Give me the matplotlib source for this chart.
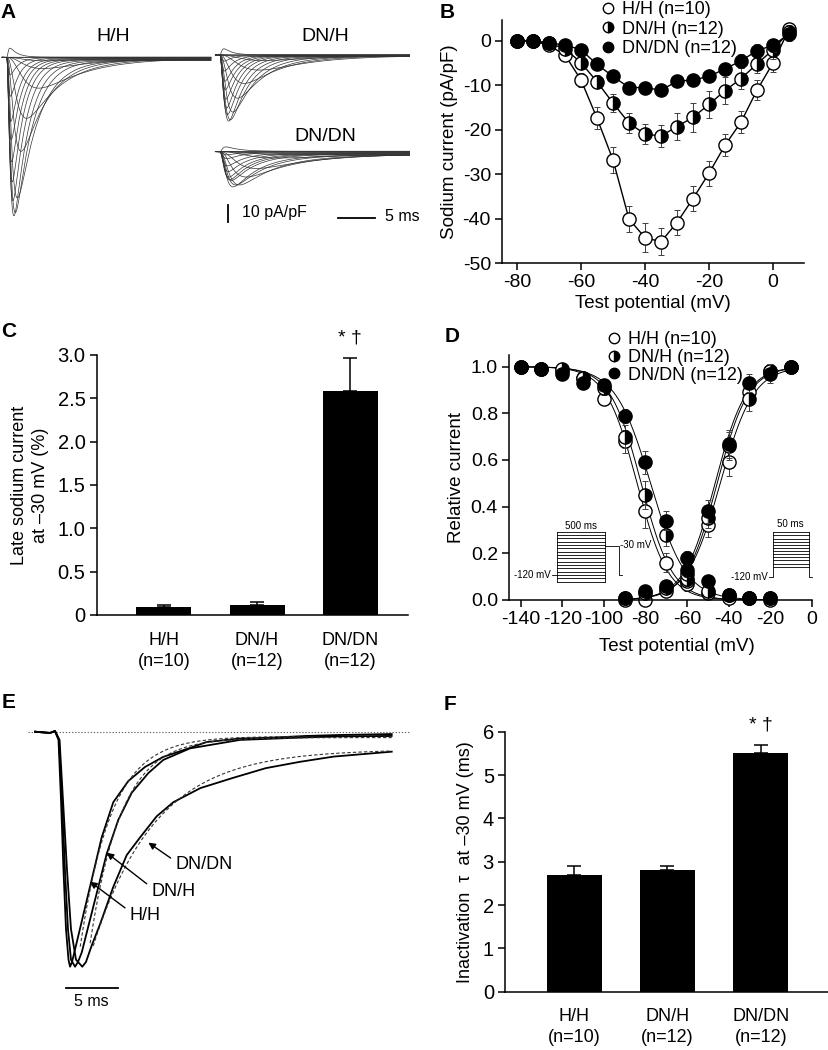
import numpy as np
import matplotlib
matplotlib.use('Agg')
import matplotlib.pyplot as plt
from matplotlib.lines import Line2D

plt.rcParams['font.family'] = ['Liberation Sans', 'DejaVu Sans']
plt.rcParams['axes.unicode_minus'] = False
plt.rcParams['font.size'] = 12
plt.rcParams['axes.linewidth'] = 1.1

genotypes = ['H/H', 'DN/H', 'DN/DN']
n_cells = [10, 12, 12]
legend_labels = ['H/H (n=10)', 'DN/H (n=12)', 'DN/DN (n=12)']

# B: peak current-voltage relation (pA/pF)
iv_v = [-80, -75, -70, -65, -60, -55, -50, -45, -40, -35, -30, -25, -20, -15, -10, -5, 0, 5]
iv_hh = [0, 0, -1, -3.2, -8.8, -17.4, -26.8, -40.1, -44.3, -45.2, -40.9, -35.5, -29.8, -23.5, -18.3, -11.1, -5.0, 2.6]
iv_dnh = [0, 0, -0.5, -1.8, -4.9, -9.2, -14.0, -18.5, -21.0, -21.4, -19.3, -17.2, -14.3, -11.2, -8.5, -5.2, -2.0, 2.0]
iv_dndn = [0, 0, -0.5, -0.9, -2.0, -5.3, -8.0, -10.5, -10.5, -11.1, -9.1, -8.8, -8.0, -6.3, -4.5, -2.2, -1.0, 1.5]
iv_err_hh = [0, 0, 0.5, 1, 1.5, 2.5, 3, 3, 3.2, 3, 2.8, 2.8, 2.8, 2.5, 2.5, 2.2, 2, 1.5]
iv_err_dnh = [0, 0, 0.5, 0.8, 1.5, 1.5, 2, 2.2, 2.3, 2.5, 3, 3.2, 3, 3, 2.3, 2, 2, 1.5]
iv_err_dndn = [0, 0, 0.3, 0.5, 0.8, 0.8, 1, 1, 1, 1, 1, 1, 1, 1.2, 1.5, 1.5, 1.5, 1.5]

# C: late sodium current at -30 mV (%)
late_mean = [0.09, 0.12, 2.58]
late_err = [0.03, 0.03, 0.38]

# D: steady-state inactivation and activation
inact_v = [-140, -130, -120, -110, -100, -90, -80, -70, -60, -50, -40, -30, -20]
inact_hh = [1.0, 0.99, 0.98, 0.95, 0.86, 0.68, 0.38, 0.16, 0.07, 0.03, 0.01, 0.01, 0.0]
inact_dnh = [1.0, 0.99, 0.99, 0.95, 0.91, 0.70, 0.45, 0.28, 0.09, 0.04, 0.02, 0.01, 0.01]
inact_dndn = [1.0, 0.99, 0.97, 0.93, 0.92, 0.79, 0.59, 0.34, 0.18, 0.08, 0.02, 0.01, 0.01]
inact_err_hh = [0, 0, 0, 0, 0.01, 0.05, 0.07, 0.04, 0.03, 0.01, 0, 0, 0]
inact_err_dnh = [0, 0, 0, 0, 0.03, 0.05, 0.06, 0.05, 0.03, 0.01, 0, 0, 0]
inact_err_dndn = [0, 0, 0, 0, 0.02, 0.03, 0.05, 0.04, 0.03, 0.02, 0.01, 0, 0]
act_v = [-90, -80, -70, -60, -50, -40, -30, -20, -10]
act_hh = [0.0, 0.0, 0.04, 0.08, 0.32, 0.59, 0.89, 0.98, 1.0]
act_dnh = [0.01, 0.03, 0.05, 0.11, 0.35, 0.66, 0.86, 0.98, 1.0]
act_dndn = [0.01, 0.04, 0.06, 0.13, 0.38, 0.67, 0.93, 0.97, 1.0]
act_err_hh = [0, 0.01, 0.02, 0.03, 0.05, 0.06, 0.03, 0.02, 0]
act_err_dnh = [0, 0.01, 0.02, 0.03, 0.04, 0.06, 0.05, 0.03, 0]
act_err_dndn = [0, 0.01, 0.02, 0.03, 0.05, 0.06, 0.04, 0.04, 0]
# Boltzmann fit parameters (V1/2, k)
inact_half = [-84, -82, -77.5]
inact_k = [7.5, 7.5, 8.5]
act_half = [-44, -45.5, -46.5]
act_k = [8, 7.5, 7.5]

# E: normalized current traces at -30 mV (ms, I/Ipeak)
e_t_hh = [0, 1.44, 1.92, 2.26, 2.5, 2.74, 2.98, 3.22, 3.37, 3.56, 3.94, 4.64, 5.45, 6.41, 7.53, 8.97, 10.58, 12.34, 14.9, 16.5, 19.7, 22.9, 26.1, 29.3, 34.3]
e_i_hh = [0, -0.006, 0.003, -0.035, -0.29, -0.59, -0.84, -0.97, -1.0, -0.98, -0.91, -0.78, -0.63, -0.45, -0.30, -0.21, -0.15, -0.107, -0.069, -0.044, -0.029, -0.025, -0.018, -0.014, -0.010]
e_t_dnh = [0, 1.44, 1.92, 2.31, 2.6, 2.88, 3.17, 3.46, 3.85, 4.13, 4.49, 5.29, 6.09, 6.89, 8.01, 9.3, 10.9, 12.34, 14.9, 19.7, 26.1, 29.3, 34.3]
e_i_dnh = [0, -0.005, 0.003, -0.035, -0.29, -0.59, -0.84, -0.97, -1.0, -0.98, -0.94, -0.80, -0.66, -0.52, -0.375, -0.26, -0.176, -0.12, -0.071, -0.035, -0.024, -0.02, -0.018]
e_t_dndn = [0, 1.44, 1.92, 2.36, 2.69, 3.08, 3.46, 3.94, 4.55, 4.9, 5.45, 6.25, 7.53, 8.82, 10.1, 11.7, 13.3, 15.9, 19.0, 22.2, 25.5, 28.7, 34.3]
e_i_dndn = [0, -0.005, 0.003, -0.035, -0.29, -0.59, -0.84, -0.97, -1.0, -0.98, -0.91, -0.82, -0.66, -0.525, -0.45, -0.36, -0.30, -0.24, -0.197, -0.155, -0.128, -0.106, -0.085]
# single exponential fits drawn dashed: anchor time, anchor value, offset, tau, first time
fit_t0 = [5.45, 6.89, 10.1]
fit_i0 = [0.64, 0.54, 0.47]
fit_c = [0.02, 0.025, 0.075]
fit_tau = [3.0, 3.0, 6.0]
fit_start = [4.35, 5.3, 5.6]
fit_end = 34.3

# F: inactivation time constant at -30 mV (ms)
tau_mean = [2.7, 2.8, 5.5]
tau_err = [0.2, 0.1, 0.2]

# A: trace family kinetics per test potential (ms)
a_tm = [2.5, 2.3, 2.1, 2.0, 1.8, 1.0, 0.7, 0.5, 0.4, 0.33, 0.28, 0.25, 0.22, 0.2, 0.18, 0.17, 0.16, 0.15]
a_th = [8, 8, 7.5, 7, 6, 4.5, 3.5, 2.8, 2.3, 2.0, 1.8, 1.6, 1.5, 1.4, 1.3, 1.2, 1.1, 1.0]
a_scale = [2.1, 1.85, 1.9]
a_rise_f = [1.0, 1.3, 1.8]
a_decay_f = [1.0, 1.1, 1.8]
a_late = [0.01, 0.01, 0.05]
a_step = [0.9, 29.7, 29.7]
a_end = [28.5, 55.4, 55.4]
a_base = [0.0, 1.4, -56.5]

iv_all = [iv_hh, iv_dnh, iv_dndn]
iv_err_all = [iv_err_hh, iv_err_dnh, iv_err_dndn]
inact_all = [inact_hh, inact_dnh, inact_dndn]
inact_err_all = [inact_err_hh, inact_err_dnh, inact_err_dndn]
act_all = [act_hh, act_dnh, act_dndn]
act_err_all = [act_err_hh, act_err_dnh, act_err_dndn]

mstyle = [dict(marker='o', mfc='white', mec='black'),
          dict(marker='o', mfc='black', mec='black', fillstyle='right', markerfacecoloralt='white'),
          dict(marker='o', mfc='black', mec='black')]

W, H = 829, 1050
fig = plt.figure(figsize=(W / 100, H / 100), dpi=100)


def axes_px(x0, y0, x1, y1):
    return fig.add_axes([x0 / W, 1 - y1 / H, (x1 - x0) / W, (y1 - y0) / H])


def clean(ax, size=14):
    ax.spines['top'].set_visible(False)
    ax.spines['right'].set_visible(False)
    ax.tick_params(direction='out', length=5, width=1.1, labelsize=size, pad=3)


# marker-only legend handles
leg_handles = [Line2D([], [], ls='none', ms=7.5, mew=1, **mstyle[g]) for g in range(3)]
leg_kw = dict(loc='upper left', frameon=False, fontsize=13, handlelength=1.0,
              handletextpad=0.3, borderpad=0, borderaxespad=0)

# ---------- A ----------
axA = axes_px(0, 25, 410, 260)
axA.axis('off')
axA.set_xlim(0, 410 / 7.4)
axA.set_ylim(-(260 - 57.3) / 1.67, (57.3 - 25) / 1.67)
for g in range(3):
    for amp, tm, th in zip(iv_all[g], a_tm, a_th):
        tt = np.linspace(0, a_end[g] - a_step[g], 1500)
        tmg = tm * a_rise_f[g]
        thg = th * a_decay_f[g]
        s = (1 - np.exp(-tt / tmg)) ** 3 * ((1 - a_late[g]) * np.exp(-tt / thg) + a_late[g])
        s = s / s.max()
        x = np.concatenate([[a_step[g] - 0.6], a_step[g] + tt])
        y = np.concatenate([[a_base[g]], a_base[g] + amp * a_scale[g] * s])
        axA.plot(x, y, color='0.2', lw=0.5)
axA.text(15.3, 12.3, 'H/H', ha='center', va='center', fontsize=14)
axA.text(43.9, 12.2, 'DN/H', ha='center', va='center', fontsize=14)
axA.text(43.9, -47.5, 'DN/DN', ha='center', va='center', fontsize=14)
axA.plot([30.8, 30.8], [-88.4, -98.4], color='black', lw=1.3)
axA.text(32.7, -93.2, '10 pA/pF', ha='left', va='center', fontsize=11.5)
axA.plot([45.7, 50.7], [-96.2, -96.2], color='black', lw=1.3)
axA.text(52.0, -95.6, '5 ms', ha='left', va='center', fontsize=11.5)

# ---------- B ----------
axB = axes_px(502, 20, 804, 263)
clean(axB)
for g in range(3):
    axB.errorbar(iv_v, iv_all[g], yerr=iv_err_all[g], fmt='none', ecolor='0.25',
                 elinewidth=0.7, capsize=2.5, capthick=0.7)
    axB.plot(iv_v, iv_all[g], '-', color='black', lw=1, ms=9.5, mew=1,
             clip_on=False, **mstyle[g])
axB.set_xlim(-84.7, 9.7)
axB.set_ylim(-50, 4.7)
axB.set_xticks([-80, -60, -40, -20, 0])
axB.set_yticks([0, -10, -20, -30, -40, -50])
axB.set_xlabel('Test potential (mV)', fontsize=13.5, labelpad=3)
axB.set_ylabel('Sodium current (pA/pF)', fontsize=13.5, labelpad=3)
fig.legend(leg_handles, legend_labels, bbox_to_anchor=(599 / W, 1 - 1 / H),
           labelspacing=0.15, **leg_kw)

# ---------- C ----------
axC = axes_px(96.7, 355, 408, 615)
clean(axC, 14.5)
xc = np.arange(3)
axC.bar(xc, late_mean, width=0.59, color='black',
        yerr=[np.zeros(3), late_err], error_kw=dict(ecolor='black', elinewidth=1.1, capsize=5, capthick=1.1))
axC.set_xlim(-0.72, 2.62)
axC.set_ylim(0, 3.0)
axC.set_yticks([0, 0.5, 1.0, 1.5, 2.0, 2.5, 3.0])
axC.set_yticklabels(['0', '0.5', '1.0', '1.5', '2.0', '2.5', '3.0'])
axC.set_xticks(xc)
axC.set_xticklabels([f'{g}\n(n={n})' for g, n in zip(genotypes, n_cells)], linespacing=1.3)
axC.tick_params(axis='x', length=0, pad=12, labelsize=13)
axC.set_ylabel('Late sodium current\nat \u201330 mV (%)', fontsize=13, linespacing=1.35, labelpad=6)
axC.text(2.0, 3.2, '* \u2020', ha='center', va='center', fontsize=14, clip_on=False)

# ---------- D ----------
axD = axes_px(509, 355, 811.7, 600)
clean(axD)
for g in range(3):
    vv = np.linspace(-140, -20, 200)
    axD.plot(vv, 1 / (1 + np.exp((vv - inact_half[g]) / inact_k[g])), color='black', lw=0.7)
    va = np.linspace(-90, -10, 200)
    axD.plot(va, 1 / (1 + np.exp((act_half[g] - va) / act_k[g])), color='black', lw=0.7)
for g in range(3):
    axD.errorbar(inact_v, inact_all[g], yerr=inact_err_all[g], fmt='none', ecolor='0.25',
                 elinewidth=0.7, capsize=2.5, capthick=0.7)
    axD.errorbar(act_v, act_all[g], yerr=act_err_all[g], fmt='none', ecolor='0.25',
                 elinewidth=0.7, capsize=2.5, capthick=0.7)
    axD.plot(inact_v, inact_all[g], ls='none', ms=9.5, mew=1, clip_on=False, **mstyle[g])
    axD.plot(act_v, act_all[g], ls='none', ms=9.5, mew=1, clip_on=False, **mstyle[g])
axD.set_xlim(-145.6, 0)
axD.set_ylim(0, 1.05)
axD.set_xticks(np.arange(-140, 1, 20))
axD.set_yticks([0, 0.2, 0.4, 0.6, 0.8, 1.0])
axD.set_yticklabels(['0.0', '0.2', '0.4', '0.6', '0.8', '1.0'])
axD.set_xlabel('Test potential (mV)', fontsize=13.5)
axD.xaxis.set_label_coords(0.554, -0.155)
axD.set_ylabel('Relative current', fontsize=13.5, labelpad=4)
fig.legend(leg_handles, legend_labels, bbox_to_anchor=(605 / W, 1 - 331 / H),
           labelspacing=0.05, **leg_kw)

# voltage protocol insets
pk = dict(color='black', lw=0.6)
for yy in np.linspace(0.078, 0.293, 16):
    axD.plot([-122.7, -99.5], [yy, yy], **pk)
axD.plot([-122.7, -122.7], [0.078, 0.293], **pk)
axD.plot([-99.5, -99.5], [0.078, 0.293], **pk)
axD.plot([-125.0, -122.7], [0.107, 0.107], **pk)
axD.plot([-99.5, -92.7, -92.7, -91.3], [0.231, 0.231, 0.107, 0.107], **pk)
axD.text(-125.4, 0.107, '-120 mV', ha='right', va='center', fontsize=7)
axD.text(-92.0, 0.235, '-30 mV', ha='left', va='center', fontsize=7)
axD.text(-111.1, 0.318, '500 ms', ha='center', va='center', fontsize=7)
for yy in np.linspace(0.143, 0.29, 12):
    axD.plot([-18.8, -1.4], [yy, yy], **pk)
axD.plot([-20.5, -18.8, -18.8], [0.097, 0.097, 0.29], **pk)
axD.plot([-1.4, -1.4, 0.0], [0.29, 0.097, 0.097], clip_on=False, **pk)
axD.text(-21.1, 0.097, '-120 mV', ha='right', va='center', fontsize=7)
axD.text(-10.1, 0.327, '50 ms', ha='center', va='center', fontsize=7)

# ---------- E ----------
axE = axes_px(0, 715, 410, 1020)
axE.axis('off')
axE.set_xlim(-35 / 10.4, 375 / 10.4)
axE.set_ylim(-(1020 - 731.7) / 235, (731.7 - 715) / 235)
axE.axhline(0, xmin=28 / 410, xmax=1, color='0.4', lw=0.8, ls=(0, (1.2, 1.6)))
e_traces = [(e_t_hh, e_i_hh), (e_t_dnh, e_i_dnh), (e_t_dndn, e_i_dndn)]
for g in range(3):
    axE.plot(e_traces[g][0], e_traces[g][1], color='black', lw=1.3)
    tf = np.linspace(fit_start[g], fit_end, 200)
    ifit = -(fit_c[g] + (fit_i0[g] - fit_c[g]) * np.exp(-(tf - fit_t0[g]) / fit_tau[g]))
    axE.plot(tf, ifit, color='0.2', lw=0.8, ls=(0, (3, 2)))
e_label_xy = [(9.13, -0.78), (11.22, -0.678), (13.53, -0.567)]
e_tip_xy = [(5.29, -0.638), (6.89, -0.515), (10.9, -0.472)]
for g in range(3):
    axE.annotate(genotypes[g], xy=e_tip_xy[g], xytext=e_label_xy[g], ha='left', va='center',
                 fontsize=13,
                 arrowprops=dict(arrowstyle='-|>', color='black', lw=1, mutation_scale=10,
                                 shrinkA=2, shrinkB=0, relpos=(0, 0.7)))
axE.plot([2.95, 7.95], [-1.09, -1.09], color='black', lw=1.3)
axE.text(5.45, -1.15, '5 ms', ha='center', va='center', fontsize=11.5)

# ---------- F ----------
axF = axes_px(505, 731.7, 829, 991.7)
clean(axF, 14.5)
axF.bar(xc, tau_mean, width=0.59, color='black',
        yerr=[np.zeros(3), tau_err], error_kw=dict(ecolor='black', elinewidth=1.1, capsize=5, capthick=1.1))
axF.set_xlim(-0.74, 2.73)
axF.set_ylim(0, 6)
axF.set_yticks(range(7))
axF.set_xticks(xc)
axF.set_xticklabels([f'{g}\n(n={n})' for g, n in zip(genotypes, n_cells)], linespacing=1.3)
axF.tick_params(axis='x', length=0, pad=12, labelsize=13)
axF.set_ylabel('Inactivation  \u03c4  at \u201330 mV (ms)', fontsize=13, labelpad=6)
axF.text(2.0, 6.15, '* \u2020', ha='center', va='center', fontsize=14, clip_on=False)

# panel letters
for lab, x, y in [('A', 8, 12), ('B', 447, 12), ('C', 9, 332), ('D', 452, 337), ('E', 9, 703), ('F', 450, 705)]:
    fig.text(x / W, 1 - y / H, lab, ha='center', va='center', fontsize=15, fontweight='bold')

fig.savefig('out.png', dpi=100)
